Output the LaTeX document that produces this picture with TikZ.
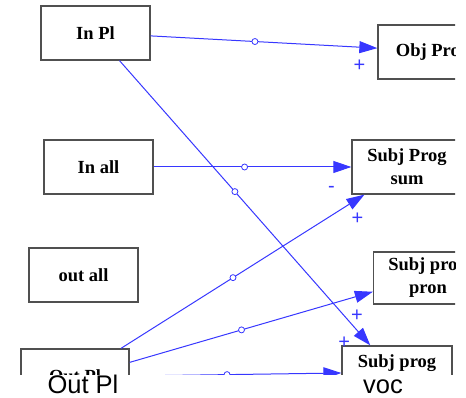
\documentclass[tikz,border=0pt]{standalone}
\usepackage{fontspec}
\setmainfont{Liberation Serif}
\newfontfamily\capfont{Liberation Sans}
\usetikzlibrary{arrows.meta}

\definecolor{linkblue}{RGB}{55,55,255}
\definecolor{boxgray}{RGB}{80,80,80}

\tikzset{
  blk/.style={draw=boxgray,line width=1.3pt,minimum width=109pt,minimum height=54pt,
    inner sep=0pt,align=center,font=\fontsize{18.5}{23}\selectfont\bfseries},
  link/.style={linkblue,line width=1pt,-{Triangle[length=18pt,width=12pt]}},
  knot/.style={circle,draw=linkblue,fill=white,line width=0.8pt,inner sep=0pt,
    minimum size=6pt,pos=0.46},
  sign/.style={text=linkblue,font=\capfont\fontsize{20}{20}\selectfont,inner sep=0pt},
  caption/.style={anchor=base,inner sep=0pt,font=\capfont\fontsize{25.5}{26}\selectfont},
}

\begin{document}
\begin{tikzpicture}[x=1pt,y=-1pt]
\useasboundingbox (0,0) rectangle (466,398);
\begin{scope}
\clip (0,0) rectangle (455,374.5);
% left column
\node[blk] (inpl) at (95.5,33) {In Pl};
\node[blk] (inall) at (98.5,167) {In all};
\node[blk] (outall) at (83.5,275) {out all};
\node[blk,minimum width=108pt] (outpl) at (75,376) {Out Pl};

% right column
\node[blk] (objprog) at (432.5,52) {Obj Prog};
\node[blk,minimum width=110pt] (subjsum) at (407,167) {Subj Prog\\sum};
\node[blk,minimum height=52pt] (subjpron) at (428,278) {Subj pron\\pron};
\node[blk,minimum width=110pt] (subjvoc) at (397,373) {Subj prog\\voc};

% links
\draw[link] (inpl.-3) -- node[knot]{} (objprog.176)
  node[sign,at end,xshift=-18pt,yshift=-18pt]{+};
\draw[link] (inall.east) -- node[knot]{} (subjsum.west)
  node[sign,at end,xshift=-20pt,yshift=-22pt]{-};
\draw[link] (inpl.-49) -- node[knot]{} (subjvoc.134)
  node[sign,at end,xshift=-26pt,yshift=3pt]{+};
\draw[link] (outpl.31.5) -- node[knot]{} (subjsum.213)
  node[sign,at end,xshift=-7pt,yshift=-24pt]{+};
\draw[link] (outpl.14.5) -- node[knot]{} (subjpron.194)
  node[sign,at end,xshift=-16pt,yshift=-24pt]{+};
\draw[link] (outpl.east) -- node[knot]{} (subjvoc.west);
\end{scope}

% caption strip along the bottom
\fill[white] (0,374.5) rectangle (466,398);
\node[caption] (outcap) at (83,393) {Out Pl};
\node[caption] (voccap) at (383,393) {voc};
\end{tikzpicture}
\end{document}
